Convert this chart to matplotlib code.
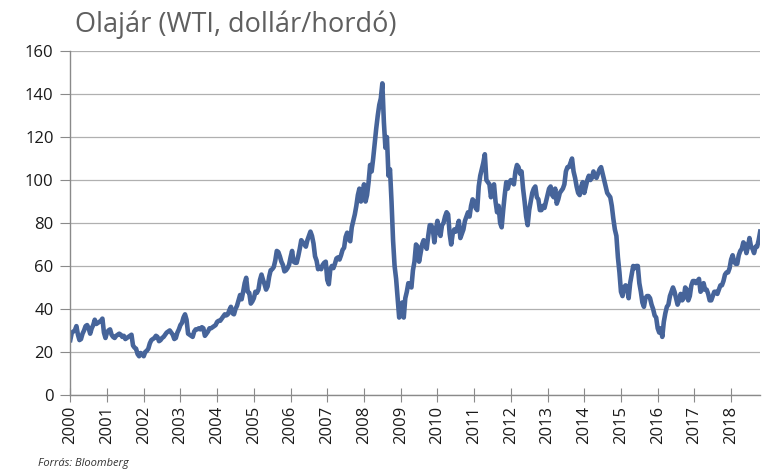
import numpy as np
import matplotlib
matplotlib.use("Agg")
import matplotlib.pyplot as plt

# WTI, dollar/barrel at roughly half-month steps
wti_2000 = [25.5, 29.0, 29.5, 30.0, 32.0, 28.0, 25.5, 26.0, 28.5, 30.0, 32.0, 32.5,
            31.0, 28.5, 31.0, 32.5, 35.0, 33.0, 33.5, 34.0, 34.5, 35.5, 29.0, 26.5]
wti_2001 = [29.0, 30.0, 30.5, 28.0, 27.0, 26.5, 27.5, 28.0, 28.5, 28.0, 27.0, 27.5,
            26.0, 26.5, 27.0, 27.5, 28.0, 23.0, 22.0, 21.5, 19.0, 18.0, 19.5, 19.0]
wti_2002 = [18.0, 20.0, 20.5, 21.5, 24.0, 25.5, 26.0, 26.5, 27.5, 27.0, 25.0, 25.5,
            26.5, 27.0, 28.0, 29.0, 29.5, 30.0, 29.0, 28.0, 26.0, 26.5, 29.0, 30.5]
wti_2003 = [32.5, 33.5, 36.0, 37.5, 35.0, 28.5, 28.0, 27.5, 27.0, 29.5, 30.5, 30.5,
            31.0, 30.5, 31.5, 31.0, 27.5, 28.5, 29.5, 31.0, 31.0, 31.5, 32.0, 32.5]
wti_2004 = [34.0, 34.5, 34.5, 35.5, 36.5, 37.5, 37.0, 37.5, 39.5, 41.0, 38.0, 37.5,
            40.0, 41.5, 44.0, 46.5, 44.5, 48.0, 52.0, 54.5, 48.0, 47.5, 42.5, 43.5]
wti_2005 = [45.0, 48.0, 47.5, 49.0, 53.5, 56.0, 53.5, 51.5, 49.0, 50.5, 55.0, 58.0,
            58.5, 59.5, 62.5, 67.0, 66.5, 64.5, 62.0, 60.5, 57.5, 58.0, 59.0, 60.5]
wti_2006 = [64.0, 67.0, 62.0, 61.5, 61.5, 64.5, 68.0, 72.0, 71.0, 70.0, 69.0, 72.0,
            74.0, 76.0, 74.0, 70.5, 64.5, 62.5, 58.5, 59.5, 58.5, 60.5, 61.5, 62.0]
wti_2007 = [53.5, 51.5, 58.5, 60.0, 59.0, 61.0, 63.5, 64.0, 63.0, 65.0, 67.5, 68.5,
            73.5, 75.5, 72.5, 71.5, 78.0, 81.0, 84.0, 88.0, 93.0, 96.0, 90.0, 92.0]
wti_2008 = [98.0, 90.0, 93.0, 99.0, 107.0, 104.0, 110.0, 117.0, 124.0, 130.0, 135.0, 138.0,
            145.0, 127.0, 115.0, 120.0, 102.0, 105.0, 90.0, 72.0, 60.0, 54.0, 45.0, 36.0]
wti_2009 = [37.0, 43.0, 36.0, 45.0, 48.0, 52.0, 51.0, 50.0, 58.0, 62.0, 70.0, 69.0,
            62.0, 66.0, 70.0, 72.0, 70.0, 68.0, 74.0, 79.0, 79.0, 77.0, 71.0, 77.0]
wti_2010 = [81.0, 76.0, 74.0, 79.0, 80.0, 83.0, 85.0, 84.0, 75.0, 70.0, 75.0, 77.0,
            76.0, 78.0, 81.0, 73.0, 75.0, 77.0, 81.0, 83.0, 85.0, 83.0, 88.0, 91.0]
wti_2011 = [90.0, 87.0, 86.0, 97.0, 102.0, 105.0, 108.0, 112.0, 100.0, 99.0, 98.0, 92.0,
            96.0, 98.0, 90.0, 85.0, 88.0, 80.0, 78.0, 86.0, 93.0, 99.0, 96.0, 99.0]
wti_2012 = [100.0, 99.0, 98.0, 104.0, 107.0, 106.0, 103.0, 104.0, 96.0, 90.0, 83.0, 79.0,
            86.0, 90.0, 94.0, 96.0, 97.0, 92.0, 91.0, 86.0, 86.0, 88.0, 87.0, 90.0]
wti_2013 = [93.0, 96.0, 97.0, 93.0, 92.0, 96.0, 89.0, 91.0, 94.0, 95.0, 96.0, 98.0,
            104.0, 106.0, 106.0, 108.0, 110.0, 104.0, 101.0, 97.0, 94.0, 93.0, 97.0, 99.0]
wti_2014 = [94.0, 97.0, 100.0, 102.0, 100.0, 101.0, 104.0, 102.0, 101.0, 103.0, 105.0, 106.0,
            103.0, 100.0, 97.0, 94.0, 93.0, 92.0, 88.0, 82.0, 77.0, 74.0, 64.0, 57.0]
wti_2015 = [48.0, 46.0, 50.0, 51.0, 50.0, 45.0, 52.0, 56.0, 60.0, 59.0, 60.0, 60.0,
            52.0, 48.0, 43.0, 41.0, 45.0, 46.0, 46.0, 45.0, 42.0, 40.0, 37.0, 36.0]
wti_2016 = [31.0, 29.0, 31.0, 27.0, 34.0, 38.0, 41.0, 42.0, 46.0, 48.0, 50.0, 48.0,
            45.0, 42.0, 44.0, 47.0, 44.0, 45.0, 50.0, 49.0, 44.0, 46.0, 51.0, 53.0]
wti_2017 = [53.0, 52.0, 53.0, 54.0, 48.0, 49.0, 52.0, 49.0, 49.0, 47.0, 44.0, 44.0,
            46.0, 48.0, 48.0, 47.0, 49.0, 51.0, 51.0, 53.0, 56.0, 57.0, 57.0, 59.0]
wti_2018 = [63.0, 65.0, 62.0, 61.0, 61.0, 65.0, 67.0, 68.0, 71.0, 70.0, 66.0, 69.0,
            73.0, 69.0, 68.0, 66.0, 69.0, 69.0, 72.0, 76.0]

years = list(range(2000, 2019))
title = "Olajár (WTI, dollár/hordó)"
source = "Forrás: Bloomberg"

def plot():
    values = np.array(wti_2000 + wti_2001 + wti_2002 + wti_2003 + wti_2004 + wti_2005
                      + wti_2006 + wti_2007 + wti_2008 + wti_2009 + wti_2010 + wti_2011
                      + wti_2012 + wti_2013 + wti_2014 + wti_2015 + wti_2016 + wti_2017
                      + wti_2018)
    t = 2000 + np.arange(len(values)) / 24.0

    plt.rcParams['font.family'] = ['Open Sans', 'DejaVu Sans']
    fig = plt.figure(figsize=(7.64, 4.69), dpi=100)
    ax = fig.add_axes([0.092, 0.158, 0.903, 0.733])

    ax.plot(t, values, color='#46649a', linewidth=3.3, solid_joinstyle='round')

    ax.set_ylim(0, 160)
    ax.set_yticks(range(0, 161, 20))
    ax.set_xlim(2000, t[-1])
    ax.set_xticks(years, labels=[str(y) for y in years], rotation=90)
    ax.grid(axis='y', color='#b0b0b0', linewidth=0.9)
    ax.set_axisbelow(True)

    for s in ['top', 'right']:
        ax.spines[s].set_visible(False)
    for s in ['left', 'bottom']:
        ax.spines[s].set_color('#8a8a8a')
        ax.spines[s].set_linewidth(1.0)
    ax.tick_params(axis='y', direction='out', length=7, color='#8a8a8a',
                   labelsize=12, pad=5, labelcolor='#1a1a1a')
    ax.tick_params(axis='x', direction='inout', length=10, color='#8a8a8a',
                   labelsize=12, pad=3, labelcolor='#1a1a1a')

    fig.text(0.098, 0.947, title, fontsize=19.5, color='#5f5f5f', va='center')
    fig.text(0.05, 0.006, source, fontsize=8, style='italic', color='#333333')

    plt.savefig("out.png", dpi=100)

plot()
